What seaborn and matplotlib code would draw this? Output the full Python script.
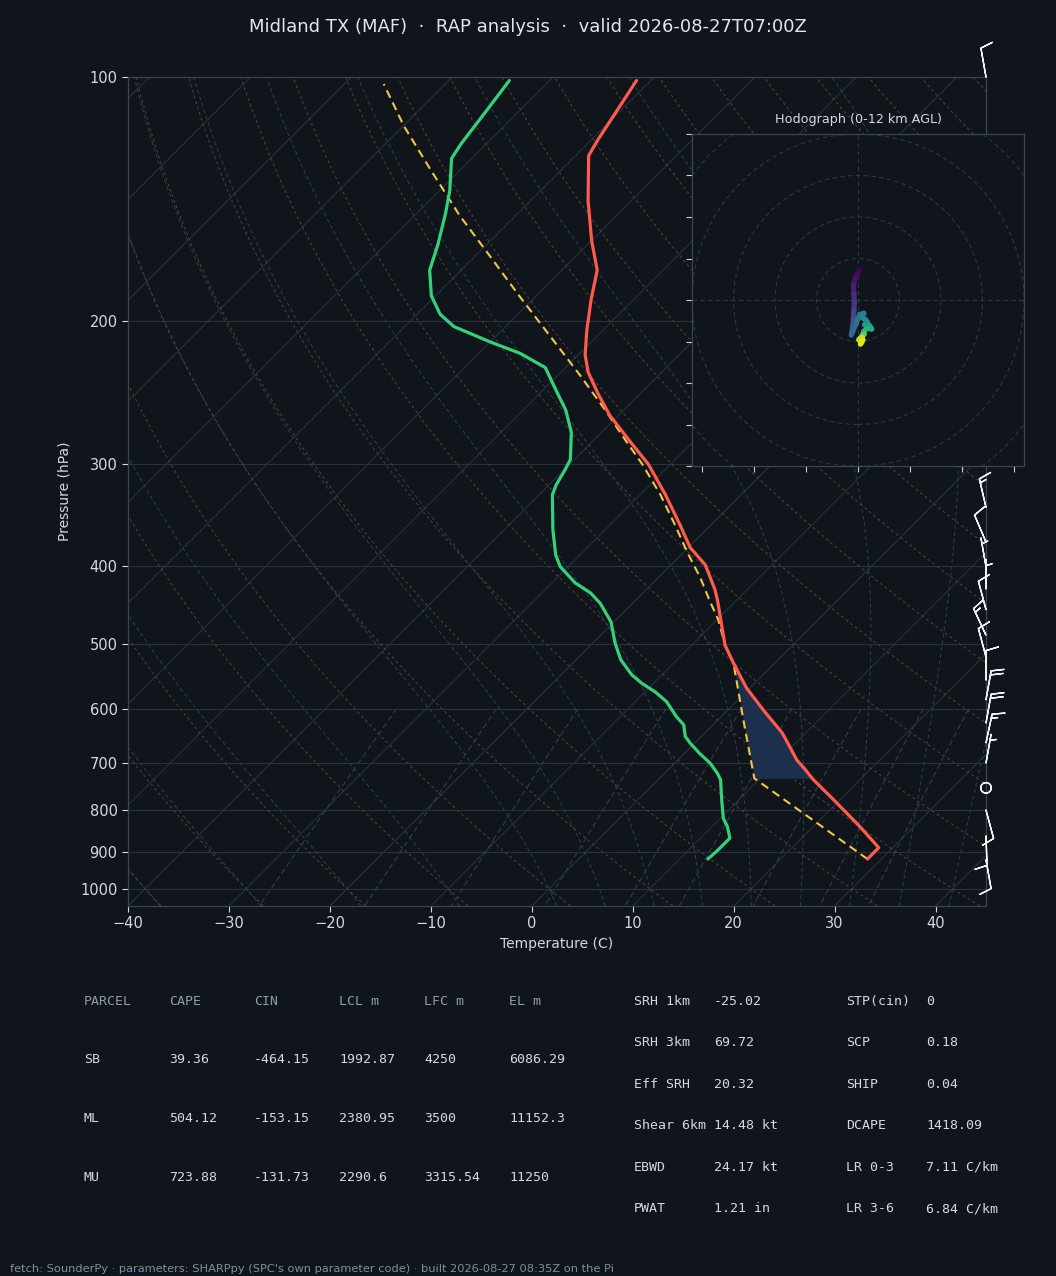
import numpy as np
import pandas as pd
import seaborn as sns
import matplotlib
matplotlib.use("Agg")
import matplotlib.pyplot as plt
from matplotlib import transforms
from matplotlib.collections import LineCollection

BG = "#10151b"
GRID = "#28313c"
SPINE = "#3a4552"
TXT = "#d3d9e0"
MUTED = "#8d9cad"

# ---- sounding ----
t_pres = [919, 890, 839, 777, 734, 710, 694, 643, 602, 566, 527, 501, 441, 428, 399, 380, 356, 327,
          300, 282, 261, 245, 231, 220, 205, 188, 173, 159, 142, 125, 120, 101]
t_degc = [28.6, 28.6, 24.7, 19.4, 15.4, 13.3, 11.8, 7.7, 3.5, -0.3, -4.1, -6.7, -11.9, -13.2, -16.6, -19.8, -23.1, -27.5,
          -32.2, -36.1, -40.9, -44.3, -47.3, -49.3, -51.6, -54.2, -56.5, -60.0, -64.3, -68.7, -69.3, -71.4]

td_pres = [919, 896, 866, 838, 819, 777, 734, 720, 700, 681, 662, 649, 628, 614, 588, 572, 558, 545, 522, 498,
           469, 445, 432, 420, 401, 388, 361, 327, 318, 305, 296, 274, 257, 245, 228, 219, 212, 203, 196,
           186, 173, 161, 147, 138, 126, 121, 111, 101]
td_degc = [12.8, 12.9, 12.9, 11.5, 10.3, 8.3, 6.2, 5.2, 3.5, 1.5, -0.4, -1.6, -2.9, -4.4, -6.9, -9.0, -11.2, -13.0, -15.6, -17.8,
           -20.3, -23.2, -25.2, -27.7, -30.8, -32.4, -35.2, -38.7, -39.3, -39.9, -40.4, -43.0, -45.8, -48.3, -52.0, -55.9, -60.0, -65.1, -67.7,
           -70.4, -73.1, -74.8, -77.2, -79.0, -82.0, -82.5, -83.2, -84.0]

parcel_pres = [919, 731, 625, 527, 501, 466, 441, 414, 386, 356, 327, 300, 280, 257, 233, 208, 186, 166, 148, 130, 115, 102]
parcel_degc = [28.6, 9.4, 2.9, -4.1, -6.7, -9.9, -12.7, -15.8, -19.5, -23.6, -28.0, -32.8, -36.9, -41.9, -47.8, -54.8,
               -61.7, -68.6, -75.6, -83.0, -89.9, -96.1]

barb_pres = [921, 861, 800, 751, 700, 661, 625, 585, 553, 518, 487, 453, 427, 401, 374, 339,
             301, 270, 240, 210, 180, 155, 135, 100]
barb_dir = [170, 178, 165, 0, 10, 12, 10, 10, 0, 345, 335, 345, 0, 350, 337, 347,
            350, 350, 345, 350, 350, 345, 350, 350]
barb_kt = [10, 10, 10, 0, 5, 15, 20, 20, 10, 10, 15, 10, 5, 5, 10, 15,
           10, 10, 10, 10, 10, 10, 10, 10]

hodo_z = [0, 0.3, 0.6, 1.0, 1.5, 2.0, 2.5, 3.0, 3.5, 4.0, 4.5, 5.0, 5.3, 5.6, 6.0, 6.3, 6.6, 7.0, 7.3, 7.6,
          8.0, 8.5, 9.0, 9.5, 10.0, 10.5, 11.0, 11.5, 12.0]
hodo_u = [0.3, -0.2, -0.8, -1.1, -1.0, -0.9, -1.0, -1.1, -1.3, -1.6, -0.4, 0.4, 1.4, 1.0, 1.8, 2.3, 1.6, 2.8, 3.3, 2.2,
          1.4, 0.9, 1.5, 0.4, 0.9, 0.2, 1.0, 0.6, 1.2]
hodo_v = [7.1, 6.2, 5.0, 3.5, 1.5, -0.5, -2.5, -4.5, -6.5, -8.4, -5.5, -3.5, -3.2, -4.2, -4.8, -5.4, -6.0, -6.2, -7.0, -6.8,
          -7.6, -8.8, -8.2, -9.3, -10.2, -9.6, -9.0, -10.6, -9.6]

parcel_cols = ["PARCEL", "CAPE", "CIN", "LCL m", "LFC m", "EL m"]
parcel_rows = [["SB", "39.36", "-464.15", "1992.87", "4250", "6086.29"],
               ["ML", "504.12", "-153.15", "2380.95", "3500", "11152.3"],
               ["MU", "723.88", "-131.73", "2290.6", "3315.54", "11250"]]
param_left = [("SRH 1km", "-25.02"), ("SRH 3km", "69.72"), ("Eff SRH", "20.32"),
              ("Shear 6km", "14.48 kt"), ("EBWD", "24.17 kt"), ("PWAT", "1.21 in")]
param_right = [("STP(cin)", "0"), ("SCP", "0.18"), ("SHIP", "0.04"),
               ("DCAPE", "1418.09"), ("LR 0-3", "7.11 C/km"), ("LR 3-6", "6.84 C/km")]

sns.set_theme(style="dark", rc={"axes.facecolor": BG, "figure.facecolor": BG,
                                "axes.edgecolor": SPINE, "text.color": TXT,
                                "xtick.color": TXT, "ytick.color": TXT, "axes.labelcolor": TXT})
plt.rcParams["font.family"] = ["DejaVu Sans"]

fig = plt.figure(figsize=(10.56, 12.76), dpi=100)
ax = fig.add_axes([128 / 1056, 1 - 906 / 1276, 858 / 1056, 829 / 1276])

P_BOT, P_TOP, T_MIN, T_MAX = 1050.0, 100.0, -40.0, 45.0
# 45 degree skew: shift in degC per unit ln(p)
K = (829 / np.log(P_BOT / P_TOP)) / (858 / (T_MAX - T_MIN))


def skew(t, p):
    return np.asarray(t, float) + K * np.log(P_BOT / np.asarray(p, float))


# background lines
p_line = np.linspace(P_BOT, P_TOP, 200)
for t in range(-130, 50, 10):
    ax.plot(skew(np.full_like(p_line, t), p_line), p_line, color=GRID, lw=0.8, zorder=1)
for p in [100, 200, 300, 400, 500, 600, 700, 800, 900, 1000]:
    ax.axhline(p, color=GRID, lw=0.8, zorder=1)

for t0 in range(-40, 250, 10):
    t = (t0 + 273.15) * (p_line / 1000.0) ** 0.2857 - 273.15
    ax.plot(skew(t, p_line), p_line, color="#5a432c", lw=0.7, ls=(0, (3, 3)), zorder=1)

Rd, Cp, Lv, EPS = 287.04749, 1004.6662, 2.50084e6, 0.6219569


def dtdp(p, t):
    tc = t - 273.15
    es = 6.112 * np.exp(17.67 * tc / (tc + 243.5))
    rs = EPS * es / (p - es)
    return (Rd * t + Lv * rs) / (Cp + Lv ** 2 * rs * EPS / (Rd * t ** 2)) / p


def moist(t0, pgrid):
    t = np.array(t0, float) + 273.15
    out = [t.copy()]
    for i in range(len(pgrid) - 1):
        p, h = pgrid[i], pgrid[i + 1] - pgrid[i]
        k1 = dtdp(p, t)
        k2 = dtdp(p + h / 2, t + h / 2 * k1)
        k3 = dtdp(p + h / 2, t + h / 2 * k2)
        k4 = dtdp(p + h, t + h * k3)
        t = t + h / 6 * (k1 + 2 * k2 + 2 * k3 + k4)
        out.append(t.copy())
    return np.array(out) - 273.15


moist_t0 = np.concatenate([np.arange(-40, 0, 10), np.arange(0, 46, 5)])
p_up = np.linspace(1000, 100, 181)
p_dn = np.linspace(1000, 1050, 11)
m_up = moist(moist_t0, p_up)
m_dn = moist(moist_t0, p_dn)
for j in range(len(moist_t0)):
    pp = np.concatenate([p_dn[::-1], p_up[1:]])
    tt = np.concatenate([m_dn[::-1, j], m_up[1:, j]])
    ax.plot(skew(tt, pp), pp, color="#28434d", lw=0.7, ls=(0, (4, 3)), zorder=1)

p_mix = np.linspace(600, P_BOT, 60)
for w in [0.0004, 0.001, 0.002, 0.004, 0.007, 0.01, 0.016, 0.024, 0.032]:
    e = p_mix * w / (EPS + w)
    lg = np.log(e / 6.112)
    td = 243.5 * lg / (17.67 - lg)
    ax.plot(skew(td, p_mix), p_mix, color="#2e3d4e", lw=0.8, ls=(0, (5, 3)), zorder=1)

# CIN shading between parcel and environment
p_fill = np.exp(np.linspace(np.log(731), np.log(505), 120))
lp_t = np.log(t_pres[::-1])
lp_p = np.log(parcel_pres[::-1])
t_env = np.interp(np.log(p_fill), lp_t, np.array(t_degc[::-1]))
t_par = np.interp(np.log(p_fill), lp_p, np.array(parcel_degc[::-1]))
ax.fill_betweenx(p_fill, skew(t_par, p_fill), skew(t_env, p_fill), where=t_env - t_par > 0.3,
                 color="#1c2f4d", lw=0, zorder=2)

# profiles
sns.lineplot(x=skew(t_degc, t_pres), y=t_pres, sort=False, estimator=None, ax=ax,
             color="#ff5a4c", lw=2.3, zorder=4)
sns.lineplot(x=skew(td_degc, td_pres), y=td_pres, sort=False, estimator=None, ax=ax,
             color="#34d07a", lw=2.3, zorder=4)
sns.lineplot(x=skew(parcel_degc, parcel_pres), y=parcel_pres, sort=False, estimator=None, ax=ax,
             color="#f4c542", lw=1.5, linestyle=(0, (4, 2.5)), zorder=3)

ax.set_yscale("log")
ax.set_ylim(P_BOT, P_TOP)
ax.set_xlim(T_MIN, T_MAX)
ax.set_yticks([100, 200, 300, 400, 500, 600, 700, 800, 900, 1000])
ax.set_yticklabels(["100", "200", "300", "400", "500", "600", "700", "800", "900", "1000"])
ax.yaxis.set_minor_locator(matplotlib.ticker.NullLocator())
ax.set_xticks(range(-40, 41, 10))
ax.tick_params(axis="both", labelsize=10.5, colors=TXT, length=4, width=0.8, direction="out",
               bottom=True, left=True)
ax.set_xlabel("Temperature (C)", fontsize=10, color=TXT, labelpad=4)
ax.set_ylabel("Pressure (hPa)", fontsize=10, color=TXT, labelpad=6)
ax.grid(False)
for s in ax.spines.values():
    s.set_color(SPINE)
    s.set_linewidth(0.9)

# wind barbs along the right edge
rad = np.deg2rad(barb_dir)
bu = -np.array(barb_kt) * np.sin(rad)
bv = -np.array(barb_kt) * np.cos(rad)
trans = transforms.blended_transform_factory(ax.transAxes, ax.transData)
ax.barbs(np.ones(len(barb_pres)), barb_pres, bu, bv, transform=trans, clip_on=False,
         length=6.5, color="#eef1f4", linewidth=1.0, zorder=6,
         sizes=dict(emptybarb=0.18, spacing=0.14, height=0.42))

# hodograph inset
hx = fig.add_axes([692 / 1056, 1 - 466 / 1276, 332 / 1056, 332 / 1276], zorder=10)
hx.set_facecolor(BG)
hx.set_xlim(-40, 40)
hx.set_ylim(-40, 40)
for r in range(10, 60, 10):
    hx.add_patch(plt.Circle((0, 0), r, fill=False, ec="#2c3744", lw=0.8, ls=(0, (4, 3))))
hx.axhline(0, color="#2c3744", lw=0.8, ls=(0, (4, 3)))
hx.axvline(0, color="#2c3744", lw=0.8, ls=(0, (4, 3)))
pts = np.column_stack([hodo_u, hodo_v]).reshape(-1, 1, 2)
segs = np.concatenate([pts[:-1], pts[1:]], axis=1)
lc = LineCollection(segs, cmap="viridis", norm=plt.Normalize(0, 12), lw=3.8, capstyle="round")
lc.set_array(np.array(hodo_z[:-1]))
hx.add_collection(lc)
hx.set_xticks([-37.5, -25, -12.5, 0, 12.5, 25, 37.5])
hx.set_yticks(range(-40, 41, 10))
hx.set_xticklabels([])
hx.set_yticklabels([])
hx.tick_params(colors="#c8d0d8", length=4, width=0.8, direction="out", bottom=True, left=True)
hx.grid(False)
for s in hx.spines.values():
    s.set_color(SPINE)
    s.set_linewidth(0.9)
hx.set_title("Hodograph (0-12 km AGL)", fontsize=9.2, color=TXT, pad=8)

fig.text(528 / 1056, 1 - 27 / 1276, "Midland TX (MAF)  \u00b7  RAP analysis  \u00b7  valid 2026-08-27T07:00Z",
         ha="center", va="center", fontsize=13, color="#e2e6eb")

# parameter tables
mono = dict(family="DejaVu Sans Mono", fontsize=9.5, va="center_baseline")
col_x = [84, 169, 254, 339, 424, 509]
for x, h in zip(col_x, parcel_cols):
    fig.text(x / 1056, 1 - 1000 / 1276, h, color=MUTED, **mono)
for row, y in zip(parcel_rows, [1058, 1117, 1176]):
    for x, v in zip(col_x, row):
        fig.text(x / 1056, 1 - y / 1276, v, color=TXT, **mono)

row_y = [1000, 1041, 1083, 1124, 1166, 1207]
for (k1, v1), (k2, v2), y in zip(param_left, param_right, row_y):
    fig.text(634 / 1056, 1 - y / 1276, k1, color=TXT, **mono)
    fig.text(714 / 1056, 1 - y / 1276, v1, color=TXT, **mono)
    fig.text(846 / 1056, 1 - y / 1276, k2, color=TXT, **mono)
    fig.text(926 / 1056, 1 - y / 1276, v2, color=TXT, **mono)

fig.text(10 / 1056, 1 - 1269 / 1276,
         "fetch: SounderPy \u00b7 parameters: SHARPpy (SPC's own parameter code) \u00b7 built 2026-08-27 08:35Z on the Pi",
         fontsize=8.2, color="#7f8ea0", va="center")

fig.savefig("out.png", dpi=100, facecolor=BG)
